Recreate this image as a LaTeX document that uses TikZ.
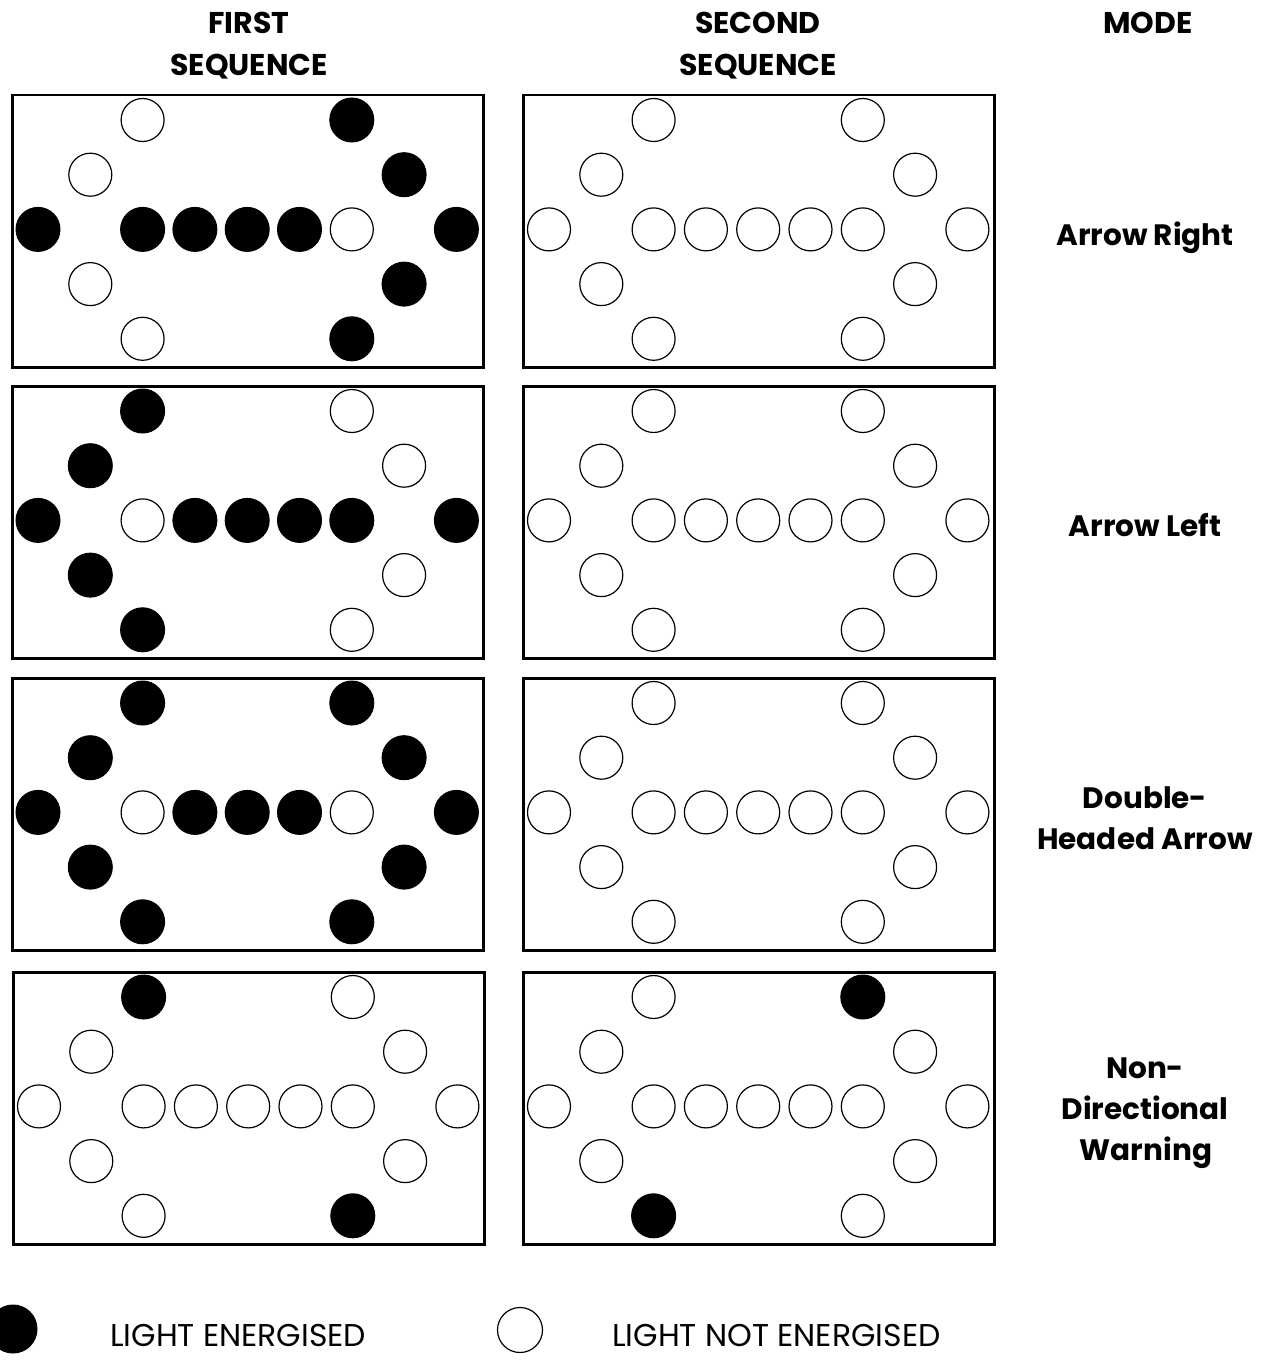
\documentclass[tikz,border=0pt]{standalone}
\usepackage{fontspec}
\setmainfont{Poppins}
\newcommand{\drawpanel}[4]{%
  \node[panel] (#1) at (#2,#3) {};
  \foreach \i/\j [count=\k from 0] in {2/0,6/0,1/1,7/1,0/2,2/2,3/2,4/2,5/2,6/2,8/2,1/3,7/3,2/4,6/4} {
    \pgfmathtruncatemacro\st{{#4}[\k]}
    \ifnum\st=1
      \node[lampon] (#1-\k) at ({#2+27+52.3*\i},{#3+26+54.7*\j}) {};
    \else
      \node[lampoff] (#1-\k) at ({#2+27+52.3*\i},{#3+26+54.7*\j}) {};
    \fi
  }%
}
\begin{document}
\begin{tikzpicture}[x=1pt,y=-1pt,
  panel/.style={draw, line width=2.5pt, inner sep=0pt, minimum width=471pt, minimum height=272pt, anchor=north west},
  lampon/.style={circle, fill=black, draw=black, line width=1pt, minimum size=44pt, inner sep=0pt},
  lampoff/.style={circle, draw=black, line width=1.2pt, minimum size=43pt, inner sep=0pt},
  head/.style={font=\bfseries\fontsize{30}{34}\selectfont, anchor=base, inner sep=0pt},
  modelab/.style={font=\bfseries\fontsize{29.5}{34}\selectfont, anchor=base, inner sep=0pt},
  legtext/.style={font=\fontsize{31.5}{34}\selectfont, anchor=base west, inner sep=0pt}]
\useasboundingbox (0,0) rectangle (1269,1362);

% headers
\node[head] (h1a) at (249,34) {FIRST};
\node[head] (h1b) at (249,76) {SEQUENCE};
\node[head] (h2a) at (758,34) {SECOND};
\node[head] (h2b) at (758,76) {SEQUENCE};
\node[head] (h3) at (1148,34) {MODE};

% panels
\drawpanel{r1a}{11}{94}{0,1,0,1,1,1,1,1,1,0,1,0,1,0,1}
\drawpanel{r1b}{522}{94}{0,0,0,0,0,0,0,0,0,0,0,0,0,0,0}
\drawpanel{r2a}{11}{385}{1,0,1,0,1,0,1,1,1,1,1,1,0,1,0}
\drawpanel{r2b}{522}{385}{0,0,0,0,0,0,0,0,0,0,0,0,0,0,0}
\drawpanel{r3a}{11}{677}{1,1,1,1,1,0,1,1,1,0,1,1,1,1,1}
\drawpanel{r3b}{522}{677}{0,0,0,0,0,0,0,0,0,0,0,0,0,0,0}
\drawpanel{r4a}{12}{971}{1,0,0,0,0,0,0,0,0,0,0,0,0,0,1}
\drawpanel{r4b}{522}{971}{0,1,0,0,0,0,0,0,0,0,0,0,0,1,0}

% mode labels
\node[modelab] (m1) at (1145,245) {Arrow Right};
\node[modelab] (m2) at (1145,536) {Arrow Left};
\node[modelab] (m3a) at (1145,808) {Double-};
\node[modelab] (m3b) at (1145,849) {Headed Arrow};
\node[modelab] (m4a) at (1145,1078) {Non-};
\node[modelab] (m4b) at (1145,1119) {Directional};
\node[modelab] (m4c) at (1146,1160) {Warning};

% legend
\node[lampon, minimum size=48pt] (legon) at (13,1329) {};
\node[legtext] (legontext) at (110,1346) {LIGHT ENERGISED};
\node[lampoff, minimum size=45pt] (legoff) at (520,1330) {};
\node[legtext] (legofftext) at (612,1346) {LIGHT NOT ENERGISED};
\end{tikzpicture}
\end{document}
